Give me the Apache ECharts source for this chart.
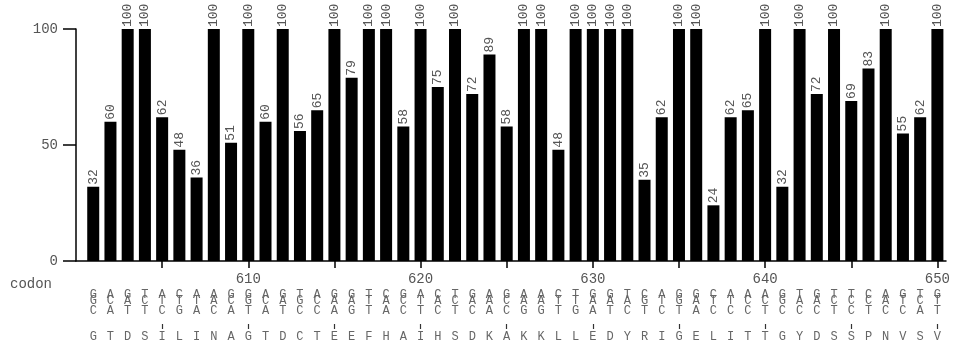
<!DOCTYPE html>
<html>
<head>
<meta charset="utf-8">
<script src="https://cdn.jsdelivr.net/npm/echarts@6/dist/echarts.min.js"></script>
<style>
  html, body { margin: 0; padding: 0; background: #fff; }
  #chart { width: 953px; height: 361px; }
</style>
</head>
<body>
<div id="chart"></div>
<script>
// Codon positions along the protein
const codons = [601, 602, 603, 604, 605, 606, 607, 608, 609, 610,
                611, 612, 613, 614, 615, 616, 617, 618, 619, 620,
                621, 622, 623, 624, 625, 626, 627, 628, 629, 630,
                631, 632, 633, 634, 635, 636, 637, 638, 639, 640,
                641, 642, 643, 644, 645, 646, 647, 648, 649, 650];

// Percentage value per codon
const values = [32, 60, 100, 100, 62, 48, 36, 100, 51, 100,
                60, 100, 56, 65, 100, 79, 100, 100, 58, 100,
                75, 100, 72, 89, 58, 100, 100, 48, 100, 100,
                100, 100, 35, 62, 100, 100, 24, 62, 65, 100,
                32, 100, 72, 100, 69, 83, 100, 55, 62, 100];

// Nucleotide at codon positions 1, 2, 3 and the translated residue
const base1 = 'GAGTACAAGGAGTAGGTCGACTGAGAACTGGTCAGGCAAAGTGTTCAGTG';
const base2 = 'GCACTTTACGCAGCAATACTACAACAATTAAAGTGATTCCGAACCCATCT';
const base3 = 'CATTCGACATATCCAGTACTCTCACGGTGATCTCTACCCTCCCTCTCCAT';
const residues = 'GTDSILINAGTDCTEEFHAIHSDKAKKLLEDYRIGELITTGYDSSPNVSV';

// Axis ticks and labels
const xTickValues = [605, 610, 615, 620, 625, 630, 635, 640, 645, 650];
const xLabelValues = [610, 620, 630, 640, 650];
const yTickValues = [0, 50, 100];

const X_MIN = 600, X_MAX = 650.5;
const MONO = "'Liberation Mono', 'DejaVu Sans Mono', monospace";

function letterAxis(seq, margin, size, color) {
  return {
    type: 'value', gridIndex: 0, position: 'bottom',
    min: X_MIN, max: X_MAX,
    axisLine: { show: false }, axisTick: { show: false }, splitLine: { show: false },
    axisLabel: {
      customValues: codons,
      margin: margin,
      fontFamily: MONO, fontSize: size, color: color,
      formatter: v => seq.charAt(codons.indexOf(v)) || ''
    }
  };
}

const chart = echarts.init(document.getElementById('chart'), null, { renderer: 'canvas' });

chart.setOption({
  animation: false,
  backgroundColor: '#fff',
  grid: { left: 76, right: 3, top: 29, bottom: 100, containLabel: false },
  xAxis: [
    {
      type: 'value', gridIndex: 0, position: 'bottom',
      min: X_MIN, max: X_MAX,
      axisLine: { show: true, lineStyle: { color: '#000', width: 1.5 } },
      axisTick: { show: true, customValues: xTickValues, length: 7, lineStyle: { color: '#000', width: 1.5 } },
      splitLine: { show: false },
      axisLabel: { customValues: xLabelValues, margin: 11, fontFamily: MONO, fontSize: 14, color: '#555' }
    },
    letterAxis(base1, 28, 12, '#666'),
    letterAxis(base2, 34, 12, '#666'),
    letterAxis(base3, 44, 12, '#666'),
    letterAxis(residues, 70, 12, '#666'),
    {
      // short marks under every fifth codon
      type: 'value', gridIndex: 0, position: 'bottom', offset: 63,
      min: X_MIN, max: X_MAX,
      axisLine: { show: false },
      axisTick: { show: true, customValues: xTickValues, length: 5, lineStyle: { color: '#333', width: 1.2 } },
      splitLine: { show: false },
      axisLabel: { show: false }
    }
  ],
  yAxis: {
    type: 'value', min: 0, max: 100, interval: 50,
    axisLine: { show: true, lineStyle: { color: '#000', width: 1.5 } },
    axisTick: { show: true, customValues: yTickValues, length: 13, lineStyle: { color: '#000', width: 1.5 } },
    splitLine: { show: false },
    axisLabel: { customValues: yTickValues, margin: 18, fontFamily: MONO, fontSize: 14, color: '#555' }
  },
  graphic: [
    { type: 'text', left: 10, top: 277, style: { text: 'codon', font: "14px 'Liberation Mono', monospace", fill: '#555' } }
  ],
  series: [{
    type: 'bar',
    xAxisIndex: 0, yAxisIndex: 0,
    barWidth: 12,
    data: codons.map((c, i) => [c, values[i]]),
    itemStyle: { color: '#000' },
    label: {
      show: true, position: 'top', rotate: 90, align: 'left', verticalAlign: 'middle', distance: 2,
      fontFamily: MONO, fontSize: 13, color: '#555',
      formatter: p => String(p.value[1])
    }
  }]
});
</script>
</body>
</html>
